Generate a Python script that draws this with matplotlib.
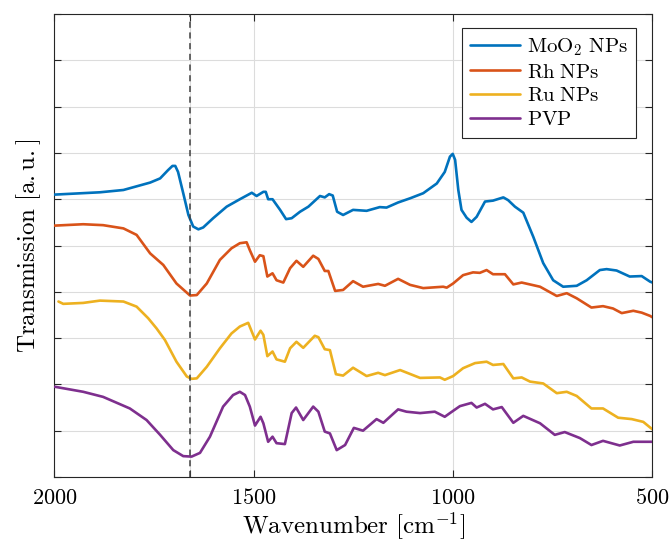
import matplotlib
matplotlib.use("Agg")
import matplotlib.pyplot as plt

plt.rcParams["mathtext.fontset"] = "cm"

wn_moo2 = [2000, 1886, 1827, 1760, 1735, 1715, 1704, 1697, 1690, 1677, 1664, 1652,
           1639, 1627, 1602, 1568, 1535, 1505, 1493, 1476, 1470, 1464, 1453, 1434,
           1419, 1405, 1384, 1363, 1334, 1322, 1311, 1302, 1291, 1276, 1251, 1217,
           1184, 1167, 1138, 1108, 1075, 1041, 1021, 1008, 1001, 995, 987, 979,
           966, 954, 941, 920, 900, 874, 862, 845, 824, 799, 774, 749, 724, 690,
           665, 632, 615, 590, 557, 527, 506, 500]
tr_moo2 = [6.10, 6.15, 6.20, 6.36, 6.45, 6.63, 6.72, 6.72, 6.59, 6.13, 5.66, 5.41,
           5.35, 5.39, 5.59, 5.84, 6.00, 6.14, 6.07, 6.16, 6.16, 6.00, 6.00, 5.77,
           5.57, 5.59, 5.73, 5.84, 6.07, 6.04, 6.11, 6.08, 5.73, 5.66, 5.77, 5.75,
           5.83, 5.82, 5.93, 6.02, 6.13, 6.34, 6.59, 6.92, 6.98, 6.85, 6.20, 5.77,
           5.60, 5.51, 5.62, 5.95, 5.97, 6.04, 5.98, 5.84, 5.71, 5.19, 4.62, 4.25,
           4.11, 4.13, 4.25, 4.47, 4.49, 4.46, 4.33, 4.34, 4.22, 4.20]

wn_rh = [2000, 1928, 1878, 1827, 1794, 1760, 1727, 1694, 1660, 1643, 1618, 1585,
         1556, 1535, 1518, 1510, 1497, 1485, 1476, 1466, 1453, 1443, 1426, 1409,
         1393, 1376, 1351, 1338, 1322, 1313, 1296, 1276, 1251, 1226, 1188, 1171,
         1138, 1108, 1075, 1025, 1016, 1000, 975, 950, 933, 916, 900, 870, 849,
         828, 782, 740, 715, 690, 653, 624, 599, 577, 548, 527, 506, 500]
tr_rh = [5.43, 5.46, 5.44, 5.37, 5.23, 4.83, 4.58, 4.18, 3.92, 3.93, 4.18, 4.69,
         4.94, 5.05, 5.07, 4.90, 4.65, 4.79, 4.77, 4.33, 4.40, 4.25, 4.20, 4.51,
         4.67, 4.54, 4.78, 4.71, 4.45, 4.45, 4.02, 4.04, 4.23, 4.11, 4.17, 4.13,
         4.28, 4.15, 4.08, 4.11, 4.09, 4.18, 4.36, 4.42, 4.41, 4.47, 4.38, 4.38,
         4.16, 4.20, 4.11, 3.91, 3.97, 3.86, 3.66, 3.69, 3.64, 3.54, 3.59, 3.55,
         3.48, 3.45]

wn_ru = [1990, 1978, 1928, 1886, 1827, 1794, 1765, 1744, 1723, 1694, 1668, 1656,
         1643, 1618, 1585, 1556, 1535, 1514, 1497, 1483, 1476, 1466, 1453, 1443,
         1422, 1409, 1393, 1376, 1347, 1338, 1322, 1309, 1294, 1276, 1251, 1217,
         1188, 1171, 1133, 1083, 1033, 1021, 1000, 975, 945, 916, 900, 874, 849,
         828, 807, 774, 740, 715, 690, 653, 624, 586, 552, 523, 506, 500]
tr_ru = [3.79, 3.74, 3.76, 3.81, 3.79, 3.68, 3.43, 3.21, 2.96, 2.49, 2.17, 2.12,
         2.13, 2.38, 2.78, 3.10, 3.25, 3.33, 2.97, 3.16, 3.07, 2.61, 2.71, 2.54,
         2.49, 2.78, 2.92, 2.79, 3.05, 3.02, 2.76, 2.74, 2.22, 2.19, 2.36, 2.18,
         2.25, 2.20, 2.31, 2.14, 2.15, 2.10, 2.18, 2.35, 2.46, 2.49, 2.42, 2.44,
         2.13, 2.15, 2.06, 2.02, 1.81, 1.84, 1.75, 1.48, 1.48, 1.28, 1.25, 1.19,
         1.07, 1.03]

wn_pvp = [2000, 1928, 1878, 1811, 1769, 1735, 1702, 1677, 1656, 1635, 1610, 1577,
          1552, 1535, 1522, 1510, 1497, 1483, 1476, 1464, 1453, 1443, 1422, 1405,
          1394, 1376, 1351, 1338, 1322, 1309, 1292, 1271, 1249, 1226, 1192, 1175,
          1138, 1117, 1083, 1046, 1021, 1008, 983, 954, 941, 920, 900, 878, 849,
          824, 782, 745, 720, 682, 653, 624, 582, 548, 506, 500]
tr_pvp = [1.95, 1.84, 1.73, 1.48, 1.23, 0.91, 0.58, 0.45, 0.44, 0.52, 0.87, 1.52,
          1.77, 1.84, 1.77, 1.52, 1.11, 1.30, 1.16, 0.76, 0.87, 0.73, 0.71, 1.38,
          1.50, 1.23, 1.52, 1.41, 0.98, 0.94, 0.58, 0.69, 1.06, 1.00, 1.25, 1.17,
          1.46, 1.41, 1.38, 1.41, 1.30, 1.38, 1.53, 1.60, 1.50, 1.58, 1.46, 1.51,
          1.17, 1.32, 1.16, 0.91, 0.97, 0.84, 0.69, 0.78, 0.68, 0.76, 0.76, 0.76]

labels = [r"$\mathrm{MoO_2\ NPs}$", r"$\mathrm{Rh\ NPs}$", r"$\mathrm{Ru\ NPs}$", r"$\mathrm{PVP}$"]
colors = ["#0072BD", "#D95319", "#EDB120", "#7E2F8E"]
x_ticks = [500, 1000, 1500, 1660, 2000]
x_ticklabels = [r"$500$", r"$1000$", r"$1500$", "", r"$2000$"]
peak_wn = 1660

fig = plt.figure(figsize=(6.7, 5.42), dpi=100)
ax = fig.add_axes([0.0813, 0.12, 0.8925, 0.854])

series = [(wn_moo2, tr_moo2), (wn_rh, tr_rh), (wn_ru, tr_ru), (wn_pvp, tr_pvp)]
for (wn, tr), lab, col in zip(series, labels, colors):
    ax.plot(wn, tr, color=col, lw=1.9, label=lab, zorder=3,
            solid_joinstyle="round", solid_capstyle="round")

ax.axvline(peak_wn, color="#404040", lw=1.1, ls=(0, (4, 3)), zorder=4)

ax.set_xlim(2000, 500)
ax.set_ylim(0, 10)
ax.set_xticks(x_ticks)
ax.set_xticklabels(x_ticklabels, fontsize=16)
ax.set_yticks(range(0, 11))
ax.set_yticklabels([])
ax.tick_params(direction="in", top=True, right=True, length=5, width=0.8,
               color="#262626", pad=8)
ax.grid(True, color="#dcdcdc", lw=0.8)
ax.set_axisbelow(True)
for sp in ax.spines.values():
    sp.set_color("#262626")
    sp.set_linewidth(0.8)

ax.set_xlabel(r"$\mathrm{Wavenumber\ [cm^{-1}]}$", fontsize=18, labelpad=2)
ax.set_ylabel(r"$\mathrm{Transmission\ [a.u.]}$", fontsize=18, labelpad=0)

leg = ax.legend(loc="upper right", fontsize=15, handlelength=2.4, handletextpad=0.3,
                labelspacing=0.18, borderpad=0.4, borderaxespad=0, fancybox=False,
                framealpha=1, edgecolor="#262626", bbox_to_anchor=(0.972, 0.970))
leg.get_frame().set_linewidth(0.8)

fig.savefig("out.png", dpi=100)
